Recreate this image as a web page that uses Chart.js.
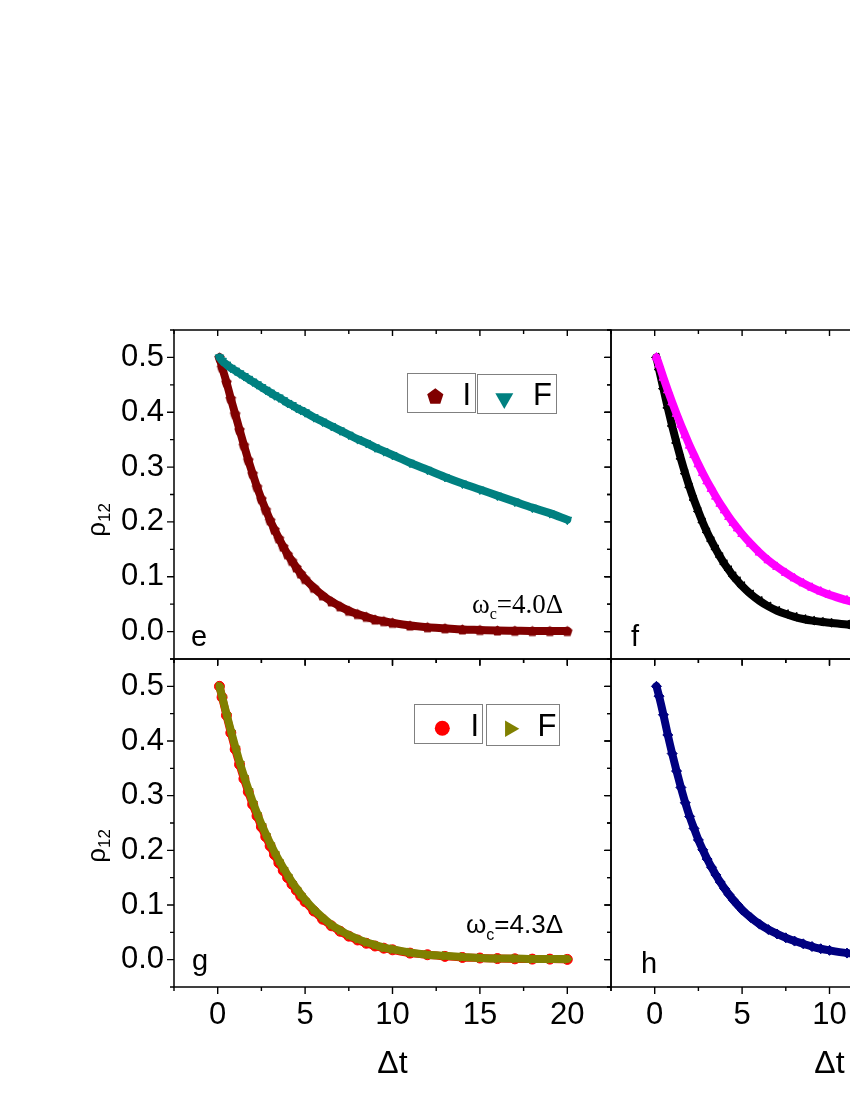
<!DOCTYPE html>
<html>
<head>
<meta charset="utf-8">
<script src="https://cdn.jsdelivr.net/npm/chart.js"></script>
<style>
  html, body { margin: 0; padding: 0; background: #fff; overflow: hidden; }
  #page { position: relative; width: 850px; height: 1100px; overflow: hidden; background: #fff; }
  #page canvas { position: absolute; left: 0; top: 0; }
</style>
</head>
<body>
<div id="page">
  <canvas id="panelE" width="1100" height="1100"></canvas>
  <canvas id="panelF" width="1100" height="1100"></canvas>
  <canvas id="panelG" width="1100" height="1100"></canvas>
  <canvas id="panelH" width="1100" height="1100"></canvas>
</div>
<script>
// Δt sample points shared by every series
const dt = [0.1, 0.25, 0.5, 0.75, 1, 1.25, 1.5, 1.75, 2, 2.25, 2.5, 2.75, 3, 3.25, 3.5, 3.75, 4, 4.25, 4.5, 4.75, 5,
            5.5, 6, 6.5, 7, 7.5, 8, 8.5, 9, 9.5, 10,
            11, 12, 13, 14, 15, 16, 17, 18, 19, 20];

// panel e  (ωc = 4.0Δ)
const eI = [0.500, 0.482, 0.455, 0.425, 0.397, 0.368, 0.340, 0.313, 0.288, 0.264, 0.242, 0.222, 0.203, 0.186, 0.170, 0.155, 0.141, 0.129, 0.117, 0.106, 0.096,
            0.080, 0.066, 0.055, 0.046, 0.038, 0.032, 0.027, 0.022, 0.019, 0.016,
            0.011, 0.008, 0.006, 0.004, 0.003, 0.002, 0.0015, 0.001, 0.001, 0.001];
const eF = [0.500, 0.494, 0.487, 0.481, 0.476, 0.471, 0.466, 0.461, 0.456, 0.451, 0.446, 0.441, 0.436, 0.431, 0.427, 0.422, 0.417, 0.413, 0.408, 0.404, 0.400,
            0.391, 0.383, 0.375, 0.367, 0.359, 0.351, 0.344, 0.336, 0.329, 0.322,
            0.308, 0.295, 0.282, 0.270, 0.259, 0.248, 0.237, 0.226, 0.216, 0.204];
// panel f
const fI = [0.500, 0.478, 0.443, 0.408, 0.375, 0.344, 0.315, 0.288, 0.263, 0.240, 0.219, 0.199, 0.181, 0.165, 0.150, 0.136, 0.123, 0.112, 0.101, 0.092, 0.083,
            0.068, 0.056, 0.046, 0.038, 0.032, 0.027, 0.023, 0.020, 0.018, 0.016,
            0.013, 0.010, 0.008, 0.006, 0.005, 0.004, 0.003, 0.0025, 0.002, 0.0015];
const fF = [0.500, 0.487, 0.463, 0.440, 0.418, 0.397, 0.377, 0.358, 0.339, 0.322, 0.305, 0.289, 0.274, 0.260, 0.246, 0.233, 0.221, 0.209, 0.198, 0.188, 0.178,
            0.160, 0.144, 0.130, 0.118, 0.107, 0.097, 0.088, 0.080, 0.073, 0.067,
            0.057, 0.048, 0.041, 0.035, 0.030, 0.026, 0.022, 0.019, 0.016, 0.014];
// panel g  (ωc = 4.3Δ)
const gI = [0.500, 0.480, 0.447, 0.415, 0.385, 0.357, 0.331, 0.307, 0.284, 0.263, 0.243, 0.225, 0.208, 0.192, 0.177, 0.163, 0.150, 0.138, 0.127, 0.116, 0.106,
            0.089, 0.074, 0.062, 0.052, 0.043, 0.036, 0.030, 0.025, 0.021, 0.018,
            0.012, 0.009, 0.006, 0.004, 0.003, 0.002, 0.0015, 0.001, 0.001, 0.0005];
const gF = [0.500, 0.482, 0.450, 0.419, 0.390, 0.362, 0.336, 0.312, 0.289, 0.268, 0.248, 0.230, 0.213, 0.197, 0.182, 0.168, 0.155, 0.142, 0.131, 0.120, 0.110,
            0.092, 0.077, 0.064, 0.054, 0.045, 0.038, 0.032, 0.027, 0.022, 0.019,
            0.013, 0.009, 0.007, 0.005, 0.003, 0.002, 0.002, 0.001, 0.001, 0.001];
// panel h
const hI = [0.500, 0.482, 0.448, 0.411, 0.377, 0.345, 0.315, 0.287, 0.262, 0.240, 0.219, 0.201, 0.184, 0.169, 0.155, 0.142, 0.130, 0.119, 0.109, 0.100, 0.091,
            0.077, 0.065, 0.055, 0.047, 0.040, 0.034, 0.029, 0.024, 0.020, 0.017,
            0.012, 0.009, 0.006, 0.004, 0.003, 0.002, 0.0015, 0.001, 0.001, 0.001];

// axis ticks
const xTicks = [0, 5, 10, 15, 20];
const xMinor = [-2.5, 2.5, 7.5, 12.5, 17.5, 22.5];
const yTicks = [0, 0.1, 0.2, 0.3, 0.4, 0.5];
const yMinor = [-0.05, 0.05, 0.15, 0.25, 0.35, 0.45, 0.55];
const legendLabels = ['I', 'F'];

const SANS = '"Liberation Sans", Arial, sans-serif';
const SERIF = '"Liberation Serif", "Times New Roman", serif';
const CW = 1100, CH = 1100;

// pentagon marker (Chart.js has no built-in one)
function pentagonPath(ctx, x, y, r) {
    ctx.beginPath();
    for (let k = 0; k < 5; k++) {
        const a = -Math.PI / 2 + k * 2 * Math.PI / 5;
        const px = x + r * Math.cos(a), py = y + r * Math.sin(a);
        if (k) ctx.lineTo(px, py); else ctx.moveTo(px, py);
    }
    ctx.closePath();
}
function pentagonImg(r, color) {
    const c = document.createElement('canvas');
    const s = Math.ceil(r * 2 + 2);
    c.width = s; c.height = s;
    const g = c.getContext('2d');
    g.fillStyle = color;
    pentagonPath(g, s / 2, s / 2 + r * 0.1, r);
    g.fill();
    return c;
}

// marker for the legend boxes
function drawMarker(ctx, style, x, y, r, color) {
    ctx.fillStyle = color;
    const poly = (n, startDeg) => {
        ctx.beginPath();
        for (let k = 0; k < n; k++) {
            const a = (startDeg + k * 360 / n) * Math.PI / 180;
            const px = x + r * Math.cos(a), py = y + r * Math.sin(a);
            if (k) ctx.lineTo(px, py); else ctx.moveTo(px, py);
        }
        ctx.closePath();
    };
    if (style === 'pentagon') pentagonPath(ctx, x, y, r);
    else if (style === 'triDown') poly(3, 90);
    else if (style === 'triRight') poly(3, 0);
    else { ctx.beginPath(); ctx.arc(x, y, r, 0, Math.PI * 2); }
    ctx.fill();
}

// frame, Origin-style ticks, legend boxes and free text
const annot = {
    id: 'annot',
    afterDraw(chart, args, o) {
        const ctx = chart.ctx;
        const { left: L, right: R, top: T, bottom: B } = chart.chartArea;
        const xs = chart.scales.x, ys = chart.scales.y;
        ctx.save();
        ctx.strokeStyle = '#000';
        ctx.lineWidth = 1.5;
        ctx.strokeRect(L, T, R - L, B - T);

        ctx.lineWidth = 1.4;
        ctx.beginPath();
        const seg = (x1, y1, x2, y2) => { ctx.moveTo(x1, y1); ctx.lineTo(x2, y2); };
        xTicks.forEach(v => { const p = xs.getPixelForValue(v); seg(p, B, p, B + 7); seg(p, T, p, T + 6); });
        xMinor.forEach(v => { const p = xs.getPixelForValue(v); seg(p, B, p, B + 4); seg(p, T, p, T + 4); });
        yTicks.forEach(v => { const p = ys.getPixelForValue(v); seg(L, p, L - 7, p); seg(R, p, R - 6, p); });
        yMinor.forEach(v => { const p = ys.getPixelForValue(v); seg(L, p, L - 4, p); seg(R, p, R - 4, p); });
        ctx.stroke();

        (o.legend || []).forEach(it => {
            ctx.strokeStyle = '#808080';
            ctx.lineWidth = 1;
            ctx.strokeRect(it.box[0] + 0.5, it.box[1] + 0.5, it.box[2] - it.box[0], it.box[3] - it.box[1]);
            drawMarker(ctx, it.style, it.mx, it.my, it.mr, it.color);
            ctx.fillStyle = '#000';
            ctx.font = '31px ' + SANS;
            ctx.textAlign = 'left';
            ctx.textBaseline = 'alphabetic';
            ctx.fillText(it.text, it.tx, it.ty);
        });

        (o.texts || []).forEach(it => {
            ctx.save();
            ctx.fillStyle = '#000';
            ctx.textBaseline = 'alphabetic';
            ctx.textAlign = 'left';
            let w = 0;
            it.parts.forEach(p => { ctx.font = p.font; w += ctx.measureText(p.t).width; });
            ctx.translate(it.x, it.y);
            if (it.rot) ctx.rotate(-Math.PI / 2);
            let cx = it.align === 'center' ? -w / 2 : 0;
            it.parts.forEach(p => {
                ctx.font = p.font;
                ctx.fillText(p.t, cx, p.dy || 0);
                cx += ctx.measureText(p.t).width;
            });
            ctx.restore();
        });
        ctx.restore();
    }
};

function series(label, vals, color, style, rot, order) {
    return {
        label,
        data: dt.map((t, i) => ({ x: t, y: vals[i] })),
        borderColor: color,
        backgroundColor: color,
        borderWidth: 8,
        pointRadius: 5,
        pointStyle: style,
        pointRotation: rot,
        pointBorderWidth: 1,
        pointBorderColor: color,
        pointBackgroundColor: color,
        cubicInterpolationMode: 'monotone',
        borderJoinStyle: 'round',
        borderCapStyle: 'round',
        order
    };
}

function makePanel(id, rect, datasets, opt) {
    const yW = 70, xH = 50;
    const tickFont = { family: SANS, size: 31 };
    return new Chart(document.getElementById(id), {
        type: 'line',
        data: { datasets },
        options: {
            responsive: false,
            animation: false,
            events: [],
            layout: { padding: { left: rect.l - yW, top: rect.t, right: CW - rect.r, bottom: CH - rect.b - xH } },
            scales: {
                x: {
                    type: 'linear', min: -2.5, max: 22.5,
                    afterFit: s => { s.height = xH; },
                    afterBuildTicks: s => { s.ticks = xTicks.map(v => ({ value: v })); },
                    grid: { display: false, drawTicks: false },
                    border: { display: false },
                    ticks: { display: opt.xLabels, padding: 10, autoSkip: false, maxRotation: 0,
                             color: '#000', font: tickFont, callback: v => String(v) }
                },
                y: {
                    type: 'linear', min: -0.05, max: 0.55,
                    afterFit: s => { s.width = yW; },
                    afterBuildTicks: s => { s.ticks = yTicks.map(v => ({ value: v })); },
                    grid: { display: false, drawTicks: false },
                    border: { display: false },
                    ticks: { display: opt.yLabels, padding: 10, color: '#000', font: tickFont,
                             callback: v => v.toFixed(1) }
                }
            },
            plugins: {
                legend: { display: false },
                tooltip: { enabled: false },
                annot: { legend: opt.legend, texts: opt.texts }
            }
        },
        plugins: [annot]
    });
}

const rho = (x, y) => ({ x, y, rot: true, align: 'center', parts: [
    { t: 'ρ', font: '26px ' + SANS, dy: 5 },
    { t: '12', font: '17px ' + SANS, dy: 10 }
] });
const dtLabel = (x) => ({ x, y: 1073, align: 'center', parts: [{ t: 'Δt', font: '32px ' + SANS }] });
const letter = (t, x, y) => ({ x, y, parts: [{ t, font: '29px ' + SANS }] });

const pentData = pentagonImg(5.5, '#800000');

makePanel('panelE', { l: 174, t: 330, r: 611, b: 659 }, [
    series(legendLabels[0], eI, '#800000', pentData, 0, 2),
    series(legendLabels[1], eF, '#008080', 'triangle', 180, 1)
], {
    xLabels: false, yLabels: true,
    legend: [
        { box: [407, 373, 475, 412], style: 'pentagon', mx: 435.3, my: 396.8, mr: 8.5, color: '#800000', text: legendLabels[0], tx: 462.5, ty: 405 },
        { box: [477, 374, 556, 413], style: 'triDown', mx: 504.3, my: 398.5, mr: 10.4, color: '#008080', text: legendLabels[1], tx: 533, ty: 405 }
    ],
    texts: [
        letter('e', 191, 646),
        rho(100, 520),
        { x: 472, y: 613, parts: [
            { t: 'ω', font: '27px ' + SERIF },
            { t: 'c', font: '16px ' + SERIF, dy: 6 },
            { t: '=4.0Δ', font: '27px ' + SERIF }
        ] }
    ]
});

makePanel('panelF', { l: 611, t: 330, r: 1048, b: 659 }, [
    series(legendLabels[0], fI, '#000000', 'triangle', 270, 2),
    series(legendLabels[1], fF, '#ff00ff', 'triangle', 0, 1)
], { xLabels: false, yLabels: false, texts: [letter('f', 631, 646)] });

makePanel('panelG', { l: 174, t: 659, r: 611, b: 987 }, [
    series(legendLabels[0], gI, '#ff0000', 'circle', 0, 2),
    series(legendLabels[1], gF, '#808000', 'triangle', 90, 1)
], {
    xLabels: true, yLabels: true,
    legend: [
        { box: [414, 704, 482, 743], style: 'circle', mx: 442.3, my: 728.3, mr: 7.5, color: '#ff0000', text: legendLabels[0], tx: 470.5, ty: 736 },
        { box: [486, 704, 559, 745], style: 'triRight', mx: 509.8, my: 728.8, mr: 9.5, color: '#808000', text: legendLabels[1], tx: 537.5, ty: 736 }
    ],
    texts: [
        letter('g', 192, 970),
        rho(100, 846),
        dtLabel(392.5),
        { x: 466, y: 933, parts: [
            { t: 'ω', font: '26px ' + SANS },
            { t: 'c', font: '16px ' + SANS, dy: 7 },
            { t: '=4.3Δ', font: '26px ' + SANS }
        ] }
    ]
});

makePanel('panelH', { l: 611, t: 659, r: 1048, b: 987 }, [
    series('I', hI, '#000080', 'rectRot', 0, 1)
], { xLabels: true, yLabels: false, texts: [letter('h', 641, 973), dtLabel(829.5)] });
</script>
</body>
</html>
